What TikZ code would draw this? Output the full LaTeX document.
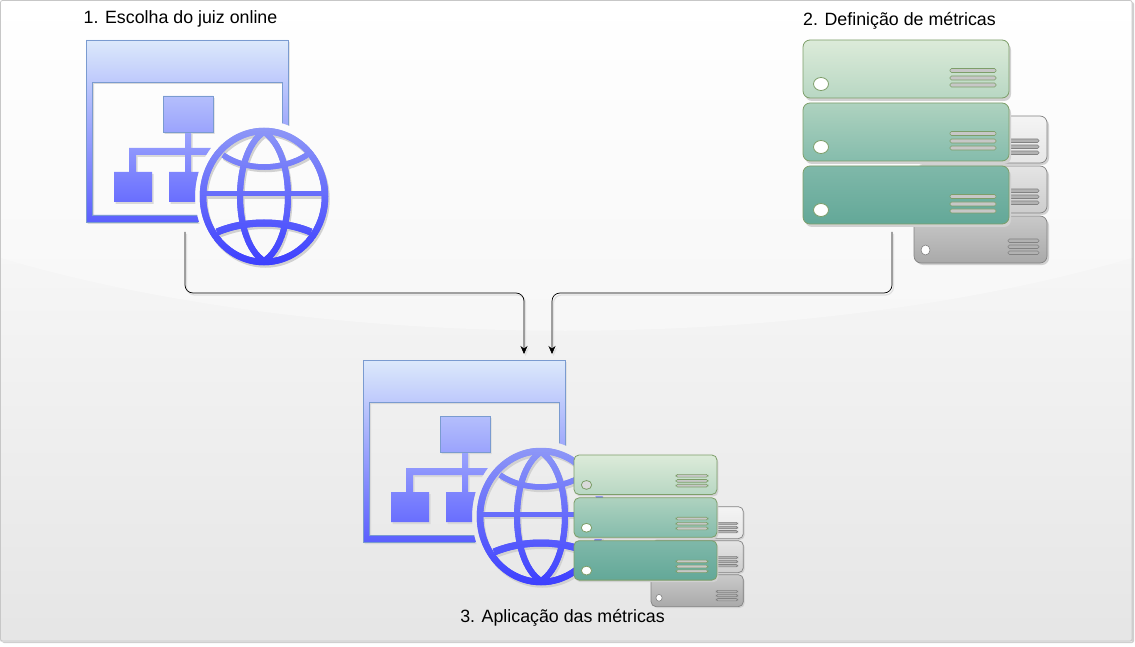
\documentclass[tikz,border=0pt]{standalone}
\usepackage{fontspec}
\setmainfont{Liberation Sans}
\usetikzlibrary{arrows.meta}
\definecolor{Janela}{RGB}{122,155,208}
\definecolor{Folha}{RGB}{125,158,105}
\definecolor{Cinza}{RGB}{130,130,130}
\definecolor{WebTopo}{RGB}{220,233,251}
\definecolor{WebMeio}{RGB}{127,136,248}
\definecolor{WebBase}{RGB}{58,60,255}
\definecolor{WebGlobo}{RGB}{142,152,247}
\newcommand{\janelapartes}{(0,0) rectangle (202,42) (0,42) rectangle (6.5,182) (0,175) rectangle (202,182) (196,42) rectangle (202,175)
  (77,56) rectangle (127,92) (99,92) rectangle (105,132) (43,108) rectangle (130,115) (43,108) rectangle (50,132)
  (28,132) rectangle (66,162) (83,132) rectangle (122,162)}
\newcommand{\globotracos}[1]{%
  \draw[#1,line width=6.5pt] (178,156.5) ellipse [x radius=61,y radius=65.5];
  \draw[#1,line width=6pt] (178,92) .. controls (146,112) and (146,201) .. (178,221);
  \draw[#1,line width=6pt] (178,92) .. controls (210,112) and (210,201) .. (178,221);
  \draw[#1,line width=5pt] (117,154) -- (239,154);
  \draw[#1,line width=5.5pt] (137,115) .. controls (160,131) and (196,131) .. (221,115);
  \draw[#1,line width=7pt] (131,192) .. controls (160,180) and (196,180) .. (225,192);
}
\tikzset{
  legenda/.style={font=\fontsize{17.8}{21}\selectfont,inner sep=0pt},
  seta/.style={black,line width=.7pt,rounded corners=8pt,-{Stealth[length=8pt,width=7pt]},
    preaction={draw=black!12,line width=1.2pt,transform canvas={xshift=1.5pt,yshift=-2pt}}},
  fita/.style={draw=Folha,fill=black!22,rounded corners=1.5pt,line width=.6pt},
  fitacinza/.style={draw=Cinza,fill=black!30,rounded corners=1.5pt,line width=.6pt},
  pics/webicon/.style={code={
    \begin{scope}[even odd rule]
      \clip (-5,-5) rectangle (260,240) (178,156.5) ellipse [x radius=69,y radius=76];
      \begin{scope}[nonzero rule]
        \fill[black!15,shift={(1.5,2)}] \janelapartes;
        \begin{scope}
          \clip \janelapartes;
          \shade[top color=WebTopo,middle color=WebMeio,bottom color=WebBase] (0,0) rectangle (246,228);
        \end{scope}
        \draw[Janela,line width=.7pt] (112,182) -- (0,182) -- (0,0) -- (202,0) -- (202,90);
        \draw[Janela,line width=.7pt] (196,88) -- (196,42) -- (6.5,42) -- (6.5,175) -- (112,175);
        \draw[Janela,line width=.6pt] (77,56) rectangle (127,92);
      \end{scope}
    \end{scope}
    % globo em fatias
    \begin{scope}[shift={(1.5,2.5)}]
      \globotracos{black!18}
    \end{scope}
    \foreach \s in {86,88,...,226}{
      \pgfmathtruncatemacro\p{(\s-86)/1.42}
      \begin{scope}
        \clip (110,\s) rectangle (250,\s+3);
        \globotracos{WebBase!\p!WebGlobo}
      \end{scope}
    }
  }},
  pics/serverstack/.style 2 args={code={
    % maquinas de tras
    \foreach \y/\ca/\cb in {76/244/230,126/228/205,176/201/169}{
      \fill[black!18,rounded corners=#2] (113,\y+2.5) rectangle (246,\y+49);
      \definecolor{cza}{gray}{\fpeval{\ca/255}}
      \definecolor{czb}{gray}{\fpeval{\cb/255}}
      \shade[draw=Cinza,line width=.7pt,rounded corners=#2,top color=cza,bottom color=czb] (111,\y) rectangle (244,\y+47);
      \foreach \f in {23,29,35}{
        \draw[fitacinza] (205,\y+\f) rectangle (236,\y+\f+3.5);
      }
      \fill[white,draw=Cinza,line width=.6pt] (122.5,\y+34) ellipse [x radius=4.5,y radius=5];
    }
    % maquinas da frente
    \foreach \y/\ca/\cb/\cc/\cd/\ce/\cf/\h in {0/220/235/217/184/215/195/#1,63/174/210/191/133/188/172/white,126/127/184/169/99/168/152/white}{
      \fill[black!18,rounded corners=#2] (2,\y+3) rectangle (208,\y+61);
      \definecolor{gra}{RGB}{\ca,\cb,\cc}
      \definecolor{grb}{RGB}{\cd,\ce,\cf}
      \shade[draw=Folha,line width=.8pt,rounded corners=#2,top color=gra,bottom color=grb] (0,\y) rectangle (206,\y+58);
      \foreach \f in {28.5,36,43}{
        \draw[fita] (147,\y+\f) rectangle (193,\y+\f+4);
      }
      \fill[\h,draw=Folha,line width=.8pt] (18,\y+44) ellipse [x radius=7.5,y radius=6.5];
    }
  }},
}
\begin{document}
\begin{tikzpicture}[x=1pt,y=-1pt]
\useasboundingbox (0,0) rectangle (1135,647);
% fundo
\fill[black!19,rounded corners=2pt] (2,2) rectangle (1134,643);
\shade[top color=black!3.5,bottom color=black!10] (0.5,250) rectangle (1132,641);
\shade[top color=white,bottom color=black!3.5] (0.5,0.5) -- (1132,0.5) -- (1132,258) .. controls (800,355) and (330,355) .. (0.5,258) -- cycle;
\draw[black!22,line width=.8pt,rounded corners=2pt] (0.5,0.5) rectangle (1132,641);
%
\node[legenda] (juiztext) at (180.5,19) {1. Escolha do juiz online};
\node[legenda] (metrictext) at (899.5,20.5) {2. Definição de métricas};
\node[legenda] (aplictext) at (562.5,617.5) {3. Aplicação das métricas};
%
\pic (juiz) at (86,40) {webicon};
\pic (metric) at (803,40) {serverstack={white}{7pt}};
\pic (aplicweb) at (363,360) {webicon};
\pic[xscale=.694,yscale=.68,line width=.5pt] (aplicsrv) at (574,455) {serverstack={black!14}{5pt}};
%
\coordinate (juizout) at (185,232);
\coordinate (metricout) at (892,232);
\coordinate (juizin) at (524,354);
\coordinate (metricin) at (552,354);
\draw[seta] (juizout) |- (524,293) -- (juizin);
\draw[seta] (metricout) |- (552,293) -- (metricin);
\end{tikzpicture}
\end{document}
